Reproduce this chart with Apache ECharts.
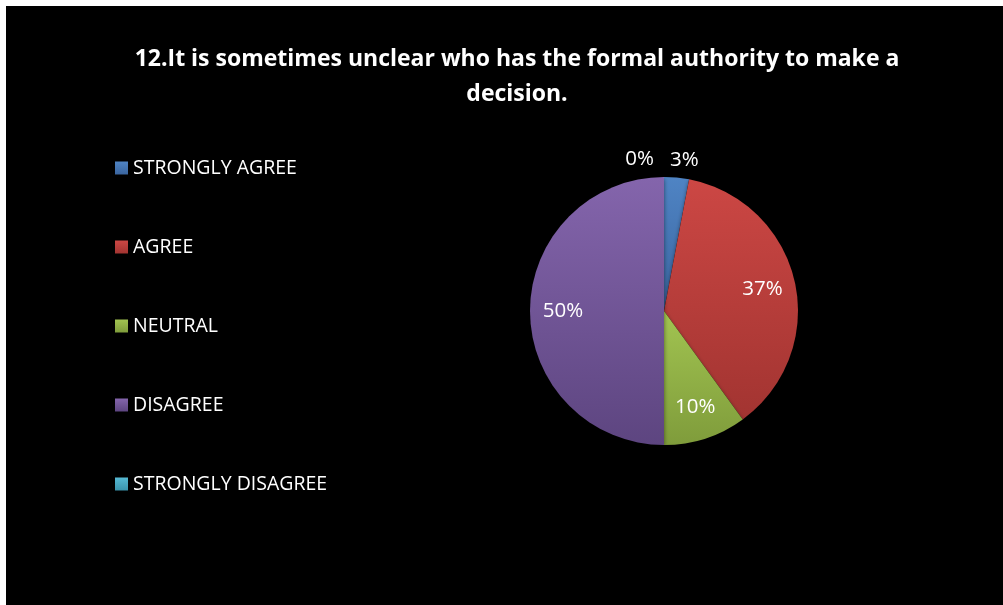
<!DOCTYPE html>
<html>
<head>
<meta charset="utf-8">
<script src="https://cdn.jsdelivr.net/npm/echarts@6/dist/echarts.min.js"></script>
<style>
  html, body { margin: 0; padding: 0; background: #ffffff; }
  #chart { position: absolute; left: 6px; top: 6px; width: 997px; height: 599px; background: #000000; }
</style>
</head>
<body>
<div id="chart"></div>
<script>
// Survey item 12 – share of responses per answer
const titleText = '12.It is sometimes unclear who has the formal authority to make a\ndecision.';
const categories = ['STRONGLY AGREE', 'AGREE', 'NEUTRAL', 'DISAGREE', 'STRONGLY DISAGREE'];
const percents = [3, 37, 10, 50, 0];

// Office-style palette: [light, dark] per answer
const shades = [
  ['#4f84c4', '#3a659f'],
  ['#cc4744', '#a23431'],
  ['#a2c451', '#7f9c3b'],
  ['#8465ac', '#5d4580'],
  ['#56b9d3', '#3a93ab']
];

function grad(pair) {
  return new echarts.graphic.LinearGradient(0, 0, 0, 1, [
    { offset: 0, color: pair[0] },
    { offset: 1, color: pair[1] }
  ]);
}

// thin slices get their label above the pie, the rest inside
const outsideIdx = [0, 4];
const outsideOffset = { 0: [-13, -2], 4: [-5, -2] };

const labelFont = { color: '#ffffff', fontFamily: 'Open Sans', fontSize: 20.5 };
const pieCenter = [658, 305];
const pieRadius = 134;

// visible slices, with the outside labels
const sliceData = categories.map((name, i) => {
  const outside = outsideIdx.indexOf(i) >= 0;
  return {
    name: name,
    value: percents[i],
    itemStyle: { color: grad(shades[i]) },
    label: outside
      ? { show: true, position: 'outside', offset: outsideOffset[i] }
      : { show: false },
    labelLine: { show: false, length: 16, length2: 0 }
  };
});

// transparent ring of the same values, carrying the inside labels further out
const ringData = categories.map((name, i) => ({
  name: name,
  value: percents[i],
  label: { show: outsideIdx.indexOf(i) < 0 }
}));

const chart = echarts.init(document.getElementById('chart'), null, { renderer: 'canvas' });
chart.setOption({
  backgroundColor: '#000000',
  animation: false,
  title: {
    text: titleText,
    left: 506,
    textAlign: 'center',
    top: 31,
    textStyle: {
      color: '#ffffff',
      fontFamily: 'Open Sans',
      fontWeight: 'bold',
      fontSize: 23,
      lineHeight: 35
    }
  },
  legend: {
    orient: 'vertical',
    left: 104,
    top: 147,
    itemWidth: 13,
    itemHeight: 13,
    itemGap: 59,
    icon: 'rect',
    data: categories,
    textStyle: {
      color: '#ffffff',
      fontFamily: 'Open Sans',
      fontSize: 19.5
    }
  },
  series: [{
    type: 'pie',
    center: pieCenter,
    radius: pieRadius,
    startAngle: 90,
    clockwise: true,
    avoidLabelOverlap: false,
    legendHoverLink: false,
    itemStyle: {
      borderWidth: 0,
      shadowColor: 'rgba(0,0,0,0.5)',
      shadowBlur: 4,
      shadowOffsetY: 2
    },
    label: Object.assign({ formatter: p => p.value + '%' }, labelFont),
    data: sliceData
  }, {
    type: 'pie',
    center: pieCenter,
    radius: [62, pieRadius],
    startAngle: 90,
    clockwise: true,
    silent: true,
    avoidLabelOverlap: false,
    legendHoverLink: false,
    itemStyle: { color: 'rgba(0,0,0,0)', borderWidth: 0 },
    label: Object.assign({ position: 'inside', formatter: p => p.value + '%' }, labelFont),
    labelLine: { show: false },
    data: ringData
  }]
});
</script>
</body>
</html>
